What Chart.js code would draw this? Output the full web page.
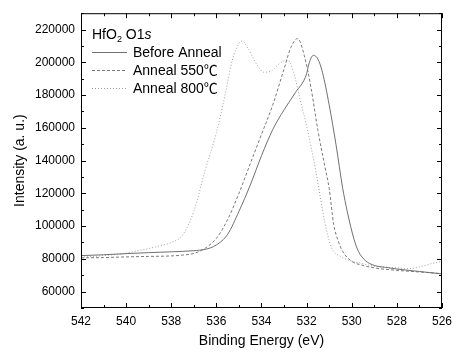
<!DOCTYPE html>
<html>
<head>
<meta charset="utf-8">
<script src="https://cdn.jsdelivr.net/npm/chart.js@4.4.1/dist/chart.umd.min.js"></script>
<style>
  html, body { margin: 0; padding: 0; background: #fff; }
  #wrap { width: 458px; height: 352px; }
</style>
</head>
<body>
<div id="wrap"><canvas id="xps"></canvas></div>
<script>
// Данные (энергия связи, эВ -> интенсивность)
const seriesNames = ['Before Anneal', 'Anneal 550\u2103', 'Anneal 800\u2103'];

const beforeEnergy = [542, 541, 540, 539, 538, 537, 536.5, 536, 535.5, 535, 534.5, 534, 533.5, 533, 532.5, 532, 531.9, 531.7, 531.5, 531.3, 531, 530.7, 530.4, 530.2, 529.9, 529.7, 529.4, 529, 528.5, 528, 527, 526];
const beforeIntensity = [82000, 82500, 83200, 83800, 84300, 85000, 85800, 88500, 95000, 109000, 125000, 143000, 159000, 171000, 181500, 193000, 199000, 204300, 202000, 194000, 174000, 150000, 123000, 109000, 92000, 84500, 79000, 76000, 74800, 73800, 72300, 70800];

const a550Energy = [542, 541, 540, 539, 538, 537.5, 537, 536.5, 536, 535.5, 535, 534.5, 534, 533.5, 533, 532.7, 532.4, 532.1, 531.8, 531.5, 531.2, 531, 530.8, 530.6, 530.4, 530, 529.5, 529, 528, 527, 526];
const a550Intensity = [80600, 80800, 81200, 81500, 81800, 82300, 83300, 86500, 92500, 104000, 120000, 138000, 156000, 174000, 196000, 209000, 214500, 204000, 184000, 158500, 137000, 123000, 101000, 91000, 84500, 78500, 76000, 74500, 73000, 72000, 71000];

const a800Energy = [542, 541, 540, 539.5, 539, 538.5, 538, 537.5, 537, 536.5, 536, 535.6, 535.3, 535, 534.85, 534.6, 534.2, 533.9, 533.6, 533.3, 533, 532.85, 532.7, 532.5, 532.3, 532, 531.6, 531.2, 530.9, 530.5, 530.1, 529.5, 529, 528.5, 528, 527.5, 527, 526.5, 526];
const a800Intensity = [81000, 82000, 83500, 85000, 86300, 88000, 90000, 94500, 109000, 134000, 157000, 181000, 201000, 211500, 213000, 208500, 198500, 194000, 194500, 198000, 201000, 201500, 199000, 190000, 178000, 161000, 134000, 103000, 87000, 81500, 79000, 77000, 75500, 75000, 74500, 74000, 75000, 77000, 78500];

// Оси
const xMin = 526, xMax = 542;
const yMin = 50000, yMax = 230000;
const yLabelMin = 60000, yLabelMax = 220000;

const lineColors = ['#707070', '#7a7a7a', '#a0a0a0'];
const lineDashes = [[], [3, 2], [1, 2]];

const textFont = '"Liberation Sans", Arial, sans-serif';
const cjkFont = '"Noto Sans CJK SC", "Noto Sans CJK JP", sans-serif';

function toPoints(xs, ys) {
  return xs.map((x, i) => ({ x: x, y: ys[i] }));
}

// Рамка, засечки внутрь и легенда
const framePlugin = {
  id: 'frame',
  afterDraw(chart) {
    const ctx = chart.ctx;
    const { left, right, top, bottom } = chart.chartArea;
    const xs = chart.scales.x, ys = chart.scales.y;
    ctx.save();
    ctx.strokeStyle = '#000';
    ctx.lineWidth = 1;
    ctx.strokeRect(left + 0.5, top + 0.5, right - left - 1, bottom - top - 1);

    ctx.beginPath();
    for (let v = xMin; v <= xMax; v++) {
      const px = Math.round(xs.getPixelForValue(v)) + 0.5;
      const len = v % 2 === 0 ? 5 : 3;
      ctx.moveTo(px, bottom); ctx.lineTo(px, bottom - len);
      ctx.moveTo(px, top); ctx.lineTo(px, top + len);
    }
    for (let v = yMin; v <= yMax; v += 10000) {
      const py = Math.round(ys.getPixelForValue(v)) + 0.5;
      const len = v % 20000 === 0 ? 5 : 3;
      ctx.moveTo(left, py); ctx.lineTo(left + len, py);
      ctx.moveTo(right, py); ctx.lineTo(right - len, py);
    }
    ctx.stroke();

    // Заголовок легенды: HfO2 O1s
    ctx.fillStyle = '#000';
    ctx.textBaseline = 'alphabetic';
    ctx.textAlign = 'left';
    let tx = 92;
    const ty = 39;
    ctx.font = '14px ' + textFont;
    ctx.fillText('HfO', tx, ty);
    tx += ctx.measureText('HfO').width;
    ctx.font = '9px ' + textFont;
    ctx.fillText('2', tx, ty + 3);
    tx += ctx.measureText('2').width;
    ctx.font = '14px ' + textFont;
    ctx.fillText(' O1', tx, ty);
    tx += ctx.measureText(' O1').width;
    ctx.font = 'italic 14px ' + textFont;
    ctx.fillText('s', tx, ty);

    // Строки легенды (знак ℃ — отдельным CJK шрифтом, он там широкий)
    seriesNames.forEach((name, i) => {
      const base = 57 + i * 18;
      const mid = base - 4.5;
      ctx.strokeStyle = lineColors[i];
      ctx.setLineDash(lineDashes[i]);
      ctx.beginPath();
      ctx.moveTo(92, mid); ctx.lineTo(127, mid);
      ctx.stroke();
      ctx.setLineDash([]);
      const parts = name.split('\u2103');
      ctx.font = '14px ' + textFont;
      ctx.fillText(parts[0], 133, base);
      if (parts.length > 1) {
        const w = ctx.measureText(parts[0]).width;
        ctx.font = '14px ' + cjkFont;
        ctx.fillText('\u2103', 133 + w, base);
      }
    });
    ctx.restore();
  }
};

new Chart(document.getElementById('xps'), {
  type: 'line',
  data: {
    datasets: [
      { label: seriesNames[0], data: toPoints(beforeEnergy, beforeIntensity) },
      { label: seriesNames[1], data: toPoints(a550Energy, a550Intensity) },
      { label: seriesNames[2], data: toPoints(a800Energy, a800Intensity) }
    ].map((d, i) => ({
      ...d,
      borderColor: lineColors[i],
      borderDash: lineDashes[i],
      borderWidth: 1,
      pointRadius: 0,
      fill: false,
      cubicInterpolationMode: 'monotone'
    }))
  },
  options: {
    responsive: true,
    maintainAspectRatio: false,
    animation: false,
    layout: { padding: { top: 10, right: 10, left: 0, bottom: 0 } },
    plugins: { legend: { display: false }, tooltip: { enabled: false } },
    scales: {
      x: {
        type: 'linear',
        reverse: true,
        min: xMin,
        max: xMax,
        grid: { display: false, drawTicks: false },
        border: { display: false },
        ticks: {
          stepSize: 1,
          autoSkip: false,
          maxRotation: 0,
          padding: 6,
          color: '#000',
          font: { family: textFont, size: 12 },
          callback: v => (v % 2 === 0 ? v : '')
        },
        title: {
          display: true,
          text: 'Binding Energy (eV)',
          color: '#000',
          font: { family: textFont, size: 14 },
          padding: { top: 0, bottom: 2 }
        },
        afterFit: s => { s.height = 44; }
      },
      y: {
        min: yMin,
        max: yMax,
        grid: { display: false, drawTicks: false },
        border: { display: false },
        ticks: {
          stepSize: 10000,
          autoSkip: false,
          padding: 6,
          color: '#000',
          font: { family: textFont, size: 12 },
          callback: v => (v % 20000 === 0 && v >= yLabelMin && v <= yLabelMax ? v : '')
        },
        title: {
          display: true,
          text: 'Intensity (a. u.)',
          color: '#000',
          font: { family: textFont, size: 14 },
          padding: { top: 12, bottom: 0 }
        },
        afterFit: s => { s.width = 81; }
      }
    }
  },
  plugins: [framePlugin]
});
</script>
</body>
</html>
